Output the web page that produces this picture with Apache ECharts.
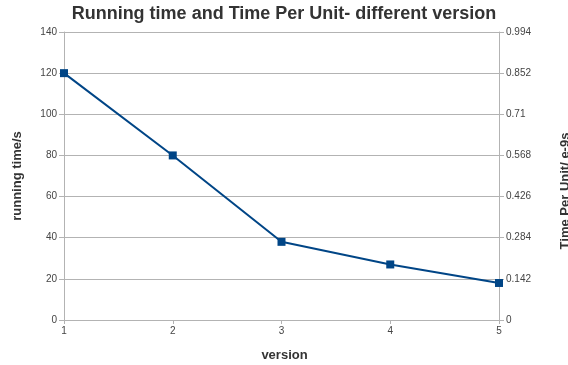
<!DOCTYPE html>
<html>
<head>
<meta charset="utf-8">
<script src="https://cdn.jsdelivr.net/npm/echarts@6/dist/echarts.min.js"></script>
<style>
  html, body { margin: 0; padding: 0; background: #fff; }
  #chart { width: 568px; height: 365px; }
</style>
</head>
<body>
<div id="chart"></div>
<script>
// Versions on the x axis and measured running time (seconds)
const versions = [1, 2, 3, 4, 5];
const runningTime = [120, 80, 38, 27, 18];
// Right-hand scale for time per unit (e-9 s)
const timePerUnitMax = 0.994;
const timePerUnitStep = 0.142;

const gridColor = '#b3b3b3';
const fontFamily = 'Liberation Sans, Arial, sans-serif';
const labelStyle = { color: '#444', fontSize: 10, fontFamily: fontFamily };
const nameStyle = { color: '#333', fontSize: 13, fontWeight: 'bold', fontFamily: fontFamily };

const chart = echarts.init(document.getElementById('chart'), null, { renderer: 'canvas' });
chart.setOption({
  animation: false,
  backgroundColor: '#fff',
  title: {
    text: 'Running time and Time Per Unit- different version',
    left: 'center',
    top: 0,
    textStyle: { color: '#333', fontSize: 18, fontWeight: 'bold', fontFamily: fontFamily }
  },
  grid: { left: 64, right: 69, top: 32, bottom: 45, containLabel: false, outerBoundsMode: 'none' },
  xAxis: {
    type: 'value',
    min: 1, max: 5, interval: 1,
    name: 'version',
    nameLocation: 'middle',
    nameGap: 29,
    nameTextStyle: Object.assign({ padding: [0, 0, 0, 6] }, nameStyle),
    axisLine: { show: true, lineStyle: { color: gridColor, width: 1 } },
    axisTick: { show: true, length: 4, lineStyle: { color: gridColor } },
    axisLabel: Object.assign({ margin: 6 }, labelStyle),
    splitLine: { show: false }
  },
  yAxis: [
    {
      type: 'value',
      min: 0, max: 140, interval: 20,
      name: 'running time/s',
      nameLocation: 'middle',
      nameGap: 40,
      nameTextStyle: nameStyle,
      axisLine: { show: true, lineStyle: { color: gridColor, width: 1 } },
      axisTick: { show: true, length: 5, lineStyle: { color: gridColor } },
      axisLabel: Object.assign({ margin: 7 }, labelStyle),
      splitLine: { show: true, lineStyle: { color: gridColor, width: 1 } }
    },
    {
      type: 'value',
      min: 0, max: timePerUnitMax, interval: timePerUnitStep,
      name: 'Time Per Unit/ e-9s',
      nameLocation: 'middle',
      nameGap: 60,
      nameTextStyle: Object.assign({ padding: [0, 30, 0, 0] }, nameStyle),
      position: 'right',
      axisLine: { show: true, lineStyle: { color: gridColor, width: 1 } },
      axisTick: { show: true, length: 5, lineStyle: { color: gridColor } },
      axisLabel: Object.assign({ margin: 7, formatter: v => String(+v.toFixed(3)) }, labelStyle),
      splitLine: { show: false }
    }
  ],
  series: [
    {
      type: 'line',
      yAxisIndex: 0,
      data: versions.map((v, i) => [v, runningTime[i]]),
      symbol: 'rect',
      symbolSize: 8,
      lineStyle: { color: '#004586', width: 2 },
      itemStyle: { color: '#004586' }
    }
  ]
});
</script>
</body>
</html>
